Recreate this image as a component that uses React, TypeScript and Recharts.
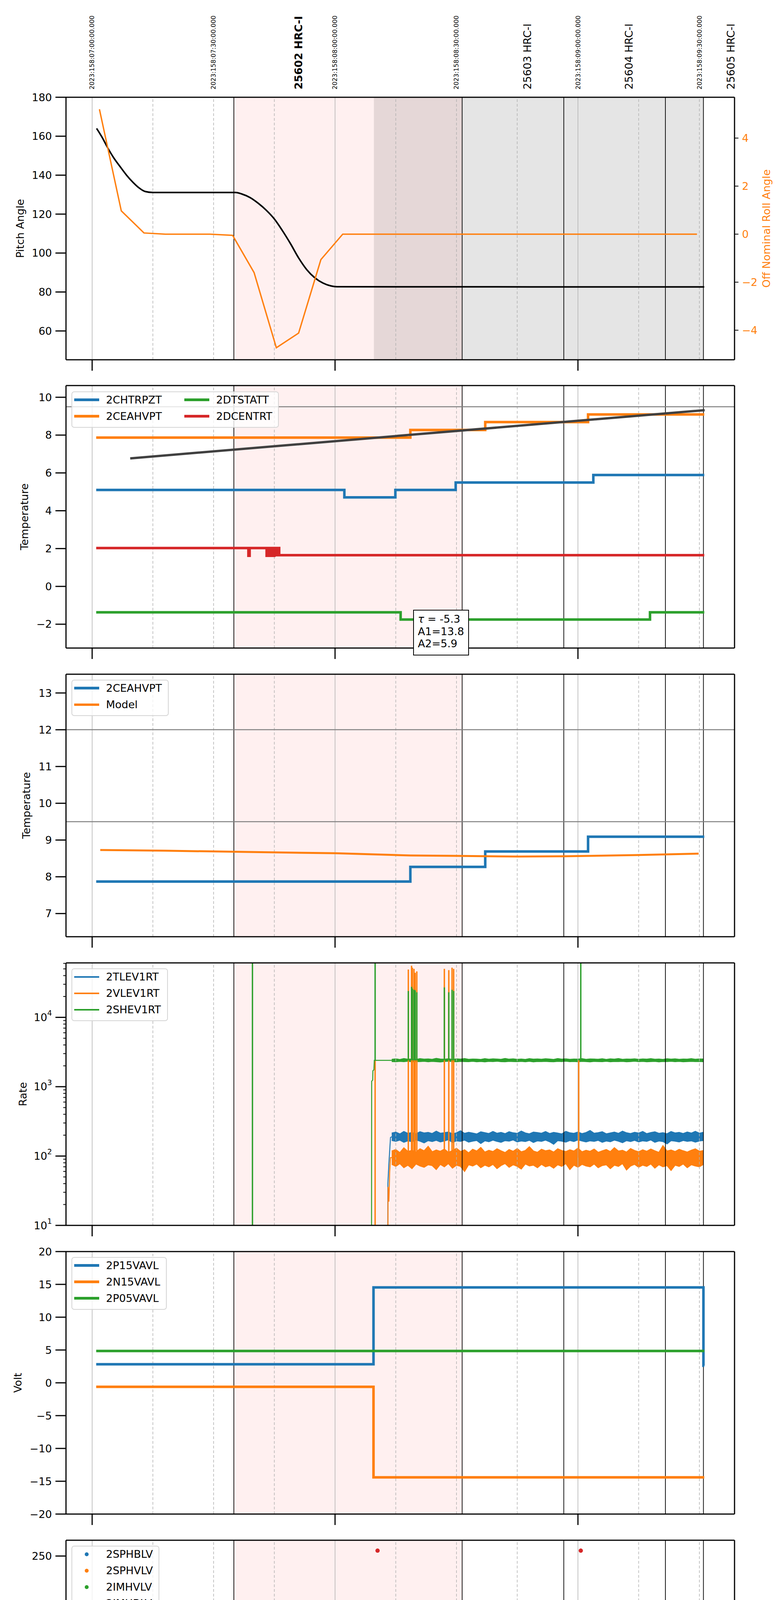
import React from 'react';
import { ComposedChart, Line, Area, Scatter, XAxis, YAxis, ReferenceLine, ReferenceArea } from 'recharts';

const BLUE = '#1f77b4';
const ORANGE = '#ff7f0e';
const GREEN = '#2ca02c';
const RED = '#d62728';

// time axis: minutes after 03:00 local (07:00 UTC), day 2023:158
const X_DOMAIN = [-6.46, 158.68];
const HOUR_TICKS = [0, 60, 120];
const QUARTER_TICKS = [0, 15, 30, 45, 60, 75, 90, 105, 120, 135, 150];
const QUARTER_LINES = [15, 30, 45, 75, 90, 105, 135, 150];
const HOUR_LABELS = ['03h', '04h', '05h'];
const OBS_BOUNDS = [35, 91.4, 116.5, 141.6, 151.0];
const HRC_SPAN = [35, 91.4];
const GRAY_SPAN = [69.6, 151.0];
const UTC_MARKS: [number, string][] = [
  [0, '2023:158:07:00:00.000'],
  [30, '2023:158:07:30:00.000'],
  [60, '2023:158:08:00:00.000'],
  [90, '2023:158:08:30:00.000'],
  [120, '2023:158:09:00:00.000'],
  [150, '2023:158:09:30:00.000'],
];
const OBS_MARKS: [number, string, boolean][] = [
  [51.0, '25602 HRC-I', true],
  [107.5, '25603 HRC-I', false],
  [132.6, '25604 HRC-I', false],
  [157.8, '25605 HRC-I', false],
];

type Pt = [number, number];

// panel 1
const PITCH: Pt[] = [
  [1.1, 164.0], [2.5, 159.3], [3.8, 154.2], [5.3, 149.0], [6.9, 144.4], [8.5, 140.0], [10.0, 136.5],
  [11.5, 133.6], [13.1, 131.6], [15.0, 131.1], [35.4, 131.1], [37.0, 130.3], [39.0, 128.5], [41.0, 125.6],
  [43.0, 122.0], [45.0, 117.5], [47.0, 111.5], [49.0, 104.8], [51.0, 97.5], [53.0, 91.5], [55.0, 87.3],
  [57.0, 84.6], [59.0, 83.1], [60.5, 82.7], [151.2, 82.6],
];
const ROLL: Pt[] = [
  [1.8, 5.2], [7.2, 0.97], [12.8, 0.05], [18.1, 0.0], [29.1, 0.0], [34.7, -0.05], [40.0, -1.6],
  [45.5, -4.73], [51.0, -4.12], [56.5, -1.06], [61.9, 0.0], [149.4, 0.0],
];

// panel 2 / 3
const CHTRPZT: Pt[] = [[1, 5.1], [62.3, 4.71], [74.9, 5.1], [89.8, 5.49], [123.8, 5.89], [151.2, 5.89]];
const CEAHVPT: Pt[] = [[1, 7.87], [78.6, 8.27], [97.1, 8.69], [122.5, 9.09], [151.2, 9.09]];
const DTSTATT: Pt[] = [[1, -1.37], [76.2, -1.75], [137.8, -1.37], [151.2, -1.37]];
const DCENTRT: Pt[] = [
  [1, 2.03], [38.6, 1.62], [38.9, 2.03], [43.1, 1.62], [43.4, 2.03], [43.8, 1.62], [44.2, 2.03],
  [44.6, 1.62], [45.0, 2.03], [45.4, 1.65], [45.8, 2.03], [46.2, 1.65], [151.2, 1.65],
];
const TREND: Pt[] = [[9.4, 6.77], [151.3, 9.32]];
const CEAHVPT_MODEL: Pt[] = [
  [2.0, 8.73], [18.0, 8.71], [35.4, 8.68], [60.1, 8.64], [78.6, 8.58], [89.8, 8.57], [105.2, 8.55],
  [117.0, 8.56], [134.3, 8.59], [149.8, 8.63],
];

// panel 4 (rates)
const RATE_MINUTES = [
  74, 75, 76, 77, 78, 79, 80, 81, 82, 83,
  84, 85, 86, 87, 88, 89, 90, 91, 92, 93,
  94, 95, 96, 97, 98, 99, 100, 101, 102, 103,
  104, 105, 106, 107, 108, 109, 110, 111, 112, 113,
  114, 115, 116, 117, 118, 119, 120, 121, 122, 123,
  124, 125, 126, 127, 128, 129, 130, 131, 132, 133,
  134, 135, 136, 137, 138, 139, 140, 141, 142, 143,
  144, 145, 146, 147, 148, 149, 150, 151,
];
const TLEV_LO = [
  168, 163, 170, 158, 166, 161, 171, 164, 155, 167,
  162, 169, 160, 165, 172, 157, 166, 163, 170, 159,
  164, 168, 152, 166, 161, 170, 163, 158, 167, 164,
  171, 160, 165, 162, 169, 157, 166, 163, 170, 161,
  148, 167, 164, 159, 168, 162, 171, 165, 160, 166,
  163, 169, 158, 165, 161, 170, 164, 156, 167, 162,
  169, 160, 166, 163, 171, 158, 165, 162, 150, 167,
  164, 160, 168, 163, 166, 159, 165, 168,
];
const TLEV_HI = [
  214, 221, 208, 226, 212, 218, 209, 224, 215, 219,
  211, 228, 213, 217, 222, 209, 216, 231, 212, 220,
  214, 208, 223, 217, 211, 226, 213, 219, 210, 224,
  216, 212, 229, 215, 209, 221, 218, 213, 225, 211,
  219, 214, 208, 227, 216, 212, 222, 210, 218, 233,
  213, 217, 224, 209, 215, 221, 212, 228, 216, 211,
  220, 214, 226, 210, 218, 223, 212, 217, 209, 225,
  215, 219, 211, 222, 214, 227, 213, 220,
];
const VLEV_LO = [
  76, 71, 78, 68, 74, 66, 77, 72, 69, 75,
  73, 64, 76, 70, 78, 67, 74, 71, 60, 75,
  72, 77, 68, 74, 70, 76, 66, 73, 78, 69,
  75, 71, 65, 77, 72, 74, 68, 76, 70, 73,
  67, 75, 71, 78, 64, 74, 69, 76, 72, 70,
  77, 68, 73, 75, 66, 74, 71, 78, 63, 72,
  76, 69, 74, 71, 77, 67, 75, 70, 73, 62,
  74, 71, 77, 68, 75, 72, 70, 76,
];
const VLEV_HI = [
  118, 124, 112, 131, 116, 121, 114, 127, 119, 138,
  115, 122, 117, 126, 113, 120, 129, 116, 123, 111,
  125, 118, 133, 114, 121, 116, 127, 119, 112, 124,
  117, 128, 115, 120, 136, 118, 113, 125, 119, 122,
  114, 127, 120, 116, 123, 118, 130, 115, 121, 117,
  126, 113, 119, 124, 116, 132, 118, 121, 114, 128,
  120, 115, 123, 117, 126, 119, 113, 141, 118, 122,
  116, 125, 119, 114, 121, 127, 117, 120,
];
const SHEV_LO = [
  2310, 2290, 2325, 2300, 2335, 2285, 2315, 2305, 2330, 2295,
  2320, 2300, 2280, 2315, 2335, 2305, 2290, 2325, 2310, 2300,
  2330, 2295, 2315, 2285, 2320, 2305, 2335, 2300, 2290, 2325,
  2310, 2300, 2320, 2295, 2330, 2285, 2315, 2305, 2325, 2300,
  2290, 2320, 2310, 2335, 2300, 2315, 2295, 2325, 2305, 2285,
  2320, 2310, 2300, 2330, 2295, 2315, 2305, 2325, 2290, 2310,
  2335, 2300, 2320, 2295, 2310, 2325, 2285, 2315, 2305, 2330,
  2300, 2320, 2295, 2310, 2325, 2305, 2315, 2300,
];
const SHEV_HI = [
  2480, 2520, 2465, 2545, 2490, 2505, 2470, 2530, 2495, 2510,
  2475, 2560, 2500, 2485, 2525, 2470, 2515, 2490, 2540, 2480,
  2505, 2495, 2470, 2535, 2485, 2515, 2500, 2475, 2550, 2490,
  2520, 2480, 2505, 2470, 2530, 2495, 2510, 2485, 2525, 2500,
  2470, 2540, 2490, 2515, 2480, 2505, 2495, 2530, 2475, 2510,
  2500, 2485, 2525, 2470, 2515, 2495, 2545, 2480, 2505, 2490,
  2520, 2475, 2510, 2495, 2535, 2485, 2500, 2470, 2525, 2490,
  2515, 2480, 2505, 2495, 2530, 2485, 2510, 2500,
];
const TLEV_RISE: Pt[] = [[73.0, 1], [73.05, 40], [73.3, 78], [73.7, 185], [74, 190]];
const VLEV_RISE: Pt[] = [[73.0, 1], [73.1, 36], [73.3, 22], [73.5, 60], [73.7, 95], [74, 95]];
const SHEV_RISE: Pt[] = [[69.0, 1], [69.05, 1200], [69.3, 1250], [69.35, 1700], [69.6, 1750], [69.7, 2400], [74, 2400]];
// [minute, from, to]
const VLEV_SPIKES: [number, number, number][] = [
  [69.9, 1, 2400], [78.1, 95, 49000], [78.9, 95, 55600], [79.1, 95, 52000], [79.5, 95, 50000],
  [79.8, 95, 44000], [80.2, 95, 46000], [87.0, 95, 50000], [88.1, 95, 48000], [88.9, 95, 52000],
  [89.3, 95, 50000], [120.2, 95, 2400],
];
const SHEV_SPIKES: [number, number, number][] = [
  [39.6, 1, 1e6], [69.9, 2400, 1e6], [78.1, 2400, 24000], [78.9, 2400, 27600], [79.1, 2400, 26000],
  [79.5, 2400, 25000], [79.8, 2400, 24500], [80.2, 2400, 23000], [87.0, 2400, 27000],
  [88.1, 2400, 23000], [88.9, 2400, 25000], [89.3, 2400, 24000], [120.7, 2400, 1e6],
];
const LOG_TICKS = [
  10, 20, 30, 40, 50, 60, 70, 80, 90,
  100, 200, 300, 400, 500, 600, 700, 800, 900,
  1000, 2000, 3000, 4000, 5000, 6000, 7000, 8000, 9000,
  10000, 20000, 30000, 40000, 50000, 60000,
];

// panel 5
const P15VAVL: Pt[] = [[1, 2.83], [69.5, 14.54], [151.0, 2.6], [151.2, 2.6]];
const N15VAVL: Pt[] = [[1, -0.61], [69.5, -14.4], [151.2, -14.4]];
const P05VAVL: Pt[] = [[1, 4.85], [151.2, 4.85]];

// panel 6
const IMHBLV_PTS: Pt[] = [
  [70.5, 255.5], [70.9, 122.3], [71.0, 127], [71.1, 119.1], [71.5, 106], [71.6, 104], [72.1, 101.3],
  [72.7, 97.2], [73.4, 92.9], [73.5, 91.4], [74.0, 89.1], [74.3, 87], [78.8, 79.2], [88.8, 79.2],
  [90.0, 79.2], [120.7, 255.5],
];
const IMHBLV_RUN: Pt[] = [[74.5, 86], [151.2, 86]];
const IMHVLV_PTS: Pt[] = [
  [71.2, 99.4], [71.8, 95.3], [72.5, 90.4], [73.2, 85.9], [73.9, 82.2], [78.8, 127], [88.8, 127], [90.0, 127],
];
const IMHVLV_RUN: Pt[] = [[74.5, 79.3], [151.2, 79.3]];

// panel 7
const SPINATM: Pt[] = [
  [70.85, 4.16], [71.85, 4.6], [78.6, 0], [78.8, 4.6], [79.0, 0], [79.2, 4.6], [79.4, 0], [79.6, 4.6],
  [79.8, 0], [80.0, 4.6], [80.2, 0], [80.4, 4.6], [80.6, 0], [80.8, 4.6], [88.5, 0], [88.6, 4.6],
  [90.0, 0], [90.1, 4.6], [151.2, 4.6],
];
const SPHVATM: Pt[] = [
  [69.5, 0], [69.6, 16.96], [78.6, 10.28], [78.8, 16.96], [79.0, 10.5], [79.2, 16.96], [79.4, 10.5],
  [79.6, 16.96], [79.8, 10.5], [80.0, 16.96], [80.2, 10.5], [80.4, 16.96], [80.6, 10.5], [80.8, 16.96],
  [88.5, 11.07], [88.6, 16.96], [90.0, 11.07], [90.1, 16.96], [131.2, 17.23], [151.2, 17.23],
];
const IMINATM: Pt[] = [
  [70.6, 2.36], [78.6, 4.66], [78.8, 2.36], [79.0, 4.66], [79.2, 2.36], [79.4, 4.66], [79.6, 2.36],
  [79.8, 4.66], [80.0, 2.36], [80.2, 4.66], [80.4, 2.36], [80.6, 4.66], [80.8, 2.36], [88.5, 4.66],
  [88.6, 2.36], [90.0, 4.66], [90.1, 2.36], [151.2, 2.36],
];
const IMHVATM: Pt[] = [
  [69.7, 0], [69.8, 16.37], [78.6, 17.0], [78.8, 16.37], [79.0, 17.0], [79.2, 16.37], [79.4, 17.0],
  [79.6, 16.37], [79.8, 17.0], [80.0, 16.37], [80.2, 17.0], [80.4, 16.37], [81.7, 16.69], [87.7, 17.0],
  [87.8, 16.69], [89.6, 17.0], [89.7, 16.94], [96.0, 17.23], [104.0, 17.51], [112.0, 17.86], [112.1, 17.51],
  [113.5, 17.82], [120.7, 0], [120.8, 17.82], [124.4, 18.1], [139.0, 18.38], [151.2, 18.38],
];

// panel 8
const FHTRMZT: Pt[] = [
  [1, -3.64], [3.2, -4.03], [61.9, -4.43], [83.8, -4.03], [96.0, -3.64], [107.0, -3.27], [118.6, -2.89],
  [130.6, -2.51], [142.6, -2.13], [151.2, -2.13],
];
const FRADPYT: Pt[] = [
  [1, -5.98], [28.3, -6.38], [46.6, -5.98], [56.6, -6.38], [65.4, -6.77], [88.9, -6.38], [102.5, -5.98],
  [115.8, -5.59], [128.8, -5.2], [142.6, -4.8], [151.2, -4.8],
];
const FEPRATM: Pt[] = [
  [70.7, -3.42], [71.9, -3.03], [74.7, -2.62], [77.7, -2.23], [78.6, -4.66], [78.7, -2.23], [80.2, -4.66],
  [80.3, -2.23], [81.4, -1.85], [86.0, -1.4], [88.5, -4.66], [88.6, -1.4], [90.0, -4.66], [90.1, -1.4],
  [93.5, -1.01], [102.0, -0.6], [111.5, -0.18], [122.4, 0.23], [134.1, 0.64], [147.0, 1.08], [151.2, 1.08],
];
const FE00ATM: Pt[] = [
  [69.7, -9], [69.8, -2.09], [77.1, -1.75], [78.6, 5], [78.8, -1.75], [79.0, 5], [79.2, -1.75], [79.4, 5],
  [79.6, -1.75], [79.8, 5], [80.0, -1.75], [80.2, 5], [80.4, -1.75], [80.6, 5], [80.8, -1.75], [86.0, -1.42],
  [86.4, -2.15], [86.5, -1.42], [87.3, 5], [87.4, -1.42], [88.3, 5], [88.4, -1.42], [89.1, 5], [89.2, -1.42],
  [90.0, 5], [90.1, -1.42], [93.2, -1.11], [96.9, -0.8], [97.0, -1.11], [100.5, -0.78], [108.1, -0.46],
  [111.2, -1.15], [111.3, -0.46], [116.1, -0.13], [120.7, -9], [120.8, -0.13], [124.8, 0.2], [130.2, -0.18],
  [130.3, 0.2], [133.7, 0.51], [143.0, 0.83], [151.2, 0.83],
];

const PLOT_H = 672;
const TOPS = [249, 987, 1726, 2465, 3204, 3943, 4682, 5421];

const toData = (pts: Pt[]) => pts.map(([t, v]) => ({ t, v }));
const bandData = (lo: number[], hi: number[]) => RATE_MINUTES.map((t, i) => ({ t, band: [lo[i], hi[i]] }));
const spikeData = (sp: [number, number, number][]) =>
  sp.flatMap(([t, a, b]) => [{ t, v: a }, { t, v: b }, { t, v: a }, { t, v: null }]);

const minus = (v: number, s: string) => (v < 0 ? '\u2212' + s.replace('-', '') : s);
const fmtInt = (v: number) => minus(v, String(v));
const fmtOne = (v: number) => minus(v, v.toFixed(1));

const timeTick = (bottom: boolean) => (props: any) => {
  const { x, y, payload } = props;
  const v = payload.value as number;
  const major = v % 60 === 0;
  return (
    <g>
      <line x1={x} x2={x} y1={y} y2={y + (major ? 28 : 10)} stroke="#000" strokeWidth={major ? 3 : 2} />
      {bottom && major && (
        <text x={x} y={y + 63} textAnchor="middle" fontSize={27} fill="#000">{HOUR_LABELS[v / 60]}</text>
      )}
      {bottom && !major && (
        <text x={x} y={y + 24} textAnchor="middle" fontSize={19} fill="#000">{String(v % 60)}</text>
      )}
    </g>
  );
};

const yTick = (fmt: (v: number) => string) => (props: any) => {
  const { x, y, payload } = props;
  return (
    <g>
      <line x1={x - 27} x2={x} y1={y} y2={y} stroke="#000" strokeWidth={3} />
      <text x={x - 36} y={y} textAnchor="end" dominantBaseline="central" fontSize={27} fill="#000">
        {fmt(payload.value)}
      </text>
    </g>
  );
};

const logTick = (props: any) => {
  const { x, y, payload } = props;
  const v = payload.value as number;
  const major = /^10*$/.test(String(v));
  return (
    <g>
      <line x1={x - (major ? 27 : 7)} x2={x} y1={y} y2={y} stroke="#000" strokeWidth={major ? 3 : 2} />
      {major && (
        <text x={x - 36} y={y} textAnchor="end" dominantBaseline="central" fontSize={27} fill="#000">
          10<tspan dy={-11} fontSize={19}>{String(v).length - 1}</tspan>
        </text>
      )}
    </g>
  );
};

const rollTick = (props: any) => {
  const { x, y, payload } = props;
  return (
    <g>
      <line x1={x} x2={x + 10} y1={y} y2={y} stroke="#000" strokeWidth={2} />
      <text x={x + 19} y={y} dominantBaseline="central" fontSize={27} fill={ORANGE}>{fmtInt(payload.value)}</text>
    </g>
  );
};

const yLabel = (text: string, cx: number, color = '#000') => (props: any) => {
  const vb = props.viewBox;
  const cy = vb.y + vb.height / 2;
  return (
    <text x={cx} y={cy} transform={`rotate(-90 ${cx} ${cy})`} textAnchor="middle" dominantBaseline="central" fontSize={27} fill={color}>
      {text}
    </text>
  );
};

const xLabel = (props: any) => {
  const vb = props.viewBox;
  return (
    <text x={vb.x + vb.width / 2} y={vb.y + 104} textAnchor="middle" fontSize={33} fill="#000">
      2023-06-07 (158)
    </text>
  );
};

const topLabel = (text: string, size: number, bold: boolean) => (props: any) => {
  const vb = props.viewBox;
  const x = vb.x;
  const y = vb.y - 20;
  return (
    <text transform={`translate(${x},${y}) rotate(-90)`} x={0} y={0} dominantBaseline="central" fontSize={size} fontWeight={bold ? 'bold' : 'normal'} fill="#000">
      {text}
    </text>
  );
};

const stepLine = (key: string, pts: Pt[], color: string, width = 6.5, type: any = 'stepAfter', yAxisId: any = 0) => (
  <Line
    key={key}
    yAxisId={yAxisId}
    data={toData(pts)}
    dataKey="v"
    type={type}
    stroke={color}
    strokeWidth={width}
    dot={false}
    activeDot={false}
    isAnimationActive={false}
  />
);

const dots = (key: string, pts: Pt[], color: string) => (
  <Scatter
    key={key}
    data={toData(pts)}
    dataKey="v"
    isAnimationActive={false}
    shape={(p: any) => <circle cx={p.cx} cy={p.cy} r={5.5} fill={color} />}
  />
);

const band = (key: string, lo: number[], hi: number[], color: string) => (
  <Area
    key={key}
    data={bandData(lo, hi)}
    dataKey="band"
    type="linear"
    stroke={color}
    strokeWidth={2.5}
    fill={color}
    fillOpacity={1}
    dot={false}
    activeDot={false}
    isAnimationActive={false}
  />
);

const spikes = (key: string, sp: [number, number, number][], color: string) => (
  <Line
    key={key}
    data={spikeData(sp)}
    dataKey="v"
    type="linear"
    stroke={color}
    strokeWidth={3.5}
    dot={false}
    activeDot={false}
    connectNulls={false}
    isAnimationActive={false}
  />
);

interface PanelProps {
  top: number;
  mt?: number;
  xh?: number;
  bottom?: boolean;
  domain: number[];
  ticks: number[];
  tick: any;
  log?: boolean;
  label: string;
  labelX: number;
  rightAxis?: React.ReactNode;
  gray?: boolean;
  header?: boolean;
  children?: React.ReactNode;
}

function Panel({ top, mt = 20, xh = 45, bottom = false, domain, ticks, tick, log = false, label, labelX, rightAxis, gray = false, header = false, children }: PanelProps) {
  const spine = { stroke: '#000', strokeWidth: 3 };
  return (
    <div style={{ position: 'absolute', left: 0, top: top - mt }}>
      <ComposedChart width={2000} height={mt + PLOT_H + xh} margin={{ top: mt - 10, right: 19, bottom: 0, left: 19 }}>
        <XAxis
          dataKey="t"
          type="number"
          domain={X_DOMAIN}
          allowDataOverflow
          ticks={bottom ? QUARTER_TICKS : HOUR_TICKS}
          interval={0}
          tickSize={0}
          tickMargin={0}
          tickLine={false}
          axisLine={spine}
          height={xh}
          tick={timeTick(bottom)}
          label={bottom ? { content: xLabel } : undefined}
        />
        <XAxis xAxisId="top" orientation="top" type="number" domain={X_DOMAIN} allowDataOverflow height={10} tick={false} tickLine={false} axisLine={spine} />
        <YAxis
          type="number"
          scale={log ? 'log' : 'auto'}
          domain={domain}
          allowDataOverflow
          ticks={ticks}
          interval={0}
          width={150}
          tickSize={0}
          tickMargin={0}
          tickLine={false}
          axisLine={spine}
          tick={tick}
          label={{ content: yLabel(label, labelX) }}
        />
        {rightAxis ?? (
          <YAxis yAxisId="frame" orientation="right" width={100} domain={[0, 1]} tick={false} tickLine={false} axisLine={spine} />
        )}
        <ReferenceArea x1={HRC_SPAN[0]} x2={HRC_SPAN[1]} fill="#ff0000" fillOpacity={0.06} stroke="none" ifOverflow="hidden" />
        {gray && <ReferenceArea x1={GRAY_SPAN[0]} x2={GRAY_SPAN[1]} fill="#000" fillOpacity={0.1} stroke="none" ifOverflow="hidden" />}
        {HOUR_TICKS.map((m) => (
          <ReferenceLine key={'h' + m} x={m} stroke="#b0b0b0" strokeWidth={1.5} />
        ))}
        {QUARTER_LINES.map((m) => (
          <ReferenceLine key={'q' + m} x={m} stroke="#b0b0b0" strokeWidth={1.5} strokeDasharray="7 5" />
        ))}
        {OBS_BOUNDS.map((m) => (
          <ReferenceLine key={'o' + m} x={m} stroke="#000" strokeWidth={1.8} />
        ))}
        {header &&
          UTC_MARKS.map(([m, s]) => (
            <ReferenceLine key={'u' + m} x={m} stroke="none" label={{ content: topLabel(s, 16, false) }} />
          ))}
        {header &&
          OBS_MARKS.map(([m, s, b]) => (
            <ReferenceLine key={'n' + m} x={m} stroke="none" label={{ content: topLabel(s, 27, b) }} />
          ))}
        {children}
      </ComposedChart>
    </div>
  );
}

interface Entry {
  name: string;
  color: string;
  kind?: 'line' | 'thin' | 'model' | 'dot';
}

function LegendBox({ top, width, rows, entries }: { top: number; width: number; rows: number; entries: Entry[] }) {
  return (
    <div
      style={{
        position: 'absolute',
        left: 183,
        top,
        width,
        height: 9 + 42 * rows,
        border: '2.5px solid #d5d5d5',
        borderRadius: 7,
        background: 'rgba(255,255,255,0.8)',
        boxSizing: 'border-box',
      }}
    >
      {entries.map((e, i) => {
        const col = Math.floor(i / rows);
        const row = i % rows;
        const cy = 19.5 + 42 * row;
        const lx = 4.5 + col * 282;
        const th = e.kind === 'thin' ? 4 : e.kind === 'model' ? 6 : 7.5;
        return (
          <React.Fragment key={e.name}>
            {e.kind === 'dot' ? (
              <div style={{ position: 'absolute', left: lx + 27, top: cy - 5, width: 10, height: 10, borderRadius: '50%', background: e.color }} />
            ) : (
              <div style={{ position: 'absolute', left: lx, top: cy - th / 2, width: 64, height: th, background: e.color }} />
            )}
            <div style={{ position: 'absolute', left: lx + 82, top: cy - 17, fontSize: 27, lineHeight: '34px', whiteSpace: 'nowrap' }}>
              {e.name}
            </div>
          </React.Fragment>
        );
      })}
    </div>
  );
}

export default function App() {
  return (
    <div
      style={{
        position: 'absolute',
        left: 0,
        top: 0,
        width: 2000,
        height: 6200,
        background: '#fff',
        overflow: 'hidden',
        fontFamily: '"DejaVu Sans", sans-serif',
      }}
    >
      {/* 1: pitch / roll */}
      <Panel
        top={TOPS[0]}
        mt={249}
        domain={[45.2, 180]}
        ticks={[60, 80, 100, 120, 140, 160, 180]}
        tick={yTick(fmtInt)}
        label="Pitch Angle"
        labelX={51}
        gray
        header
        rightAxis={
          <YAxis
            yAxisId="roll"
            orientation="right"
            type="number"
            domain={[-5.23, 5.7]}
            allowDataOverflow
            ticks={[-4, -2, 0, 2, 4]}
            interval={0}
            width={100}
            tickSize={0}
            tickMargin={0}
            tickLine={false}
            axisLine={{ stroke: '#000', strokeWidth: 3 }}
            tick={rollTick}
            label={{ content: yLabel('Off Nominal Roll Angle', 1962, ORANGE) }}
          />
        }
      >
        {stepLine('pitch', PITCH, '#000', 4, 'monotone')}
        {stepLine('roll', ROLL, ORANGE, 3.5, 'linear', 'roll')}
      </Panel>

      {/* 2: temperatures */}
      <Panel top={TOPS[1]} domain={[-3.26, 10.62]} ticks={[-2, 0, 2, 4, 6, 8, 10]} tick={yTick(fmtInt)} label="Temperature" labelX={62}>
        <ReferenceLine y={9.5} stroke="#808080" strokeWidth={2.5} />
        {stepLine('chtrpzt', CHTRPZT, BLUE)}
        {stepLine('ceahvpt', CEAHVPT, ORANGE)}
        {stepLine('dtstatt', DTSTATT, GREEN)}
        {stepLine('dcentrt', DCENTRT, RED)}
        {stepLine('trend', TREND, '#404040', 6, 'linear')}
      </Panel>

      {/* 3: CEAHVPT vs model */}
      <Panel top={TOPS[2]} domain={[6.37, 13.51]} ticks={[7, 8, 9, 10, 11, 12, 13]} tick={yTick(fmtInt)} label="Temperature" labelX={67}>
        <ReferenceLine y={12} stroke="#808080" strokeWidth={2.5} />
        <ReferenceLine y={9.5} stroke="#808080" strokeWidth={2.5} />
        {stepLine('ceahvpt3', CEAHVPT, BLUE)}
        {stepLine('model', CEAHVPT_MODEL, ORANGE, 5, 'linear')}
      </Panel>

      {/* 4: rates */}
      <Panel top={TOPS[3]} domain={[10, 61000]} ticks={LOG_TICKS} tick={logTick} log label="Rate" labelX={58}>
        {stepLine('tlevrise', TLEV_RISE, BLUE, 2.5, 'linear')}
        {band('tlev', TLEV_LO, TLEV_HI, BLUE)}
        {stepLine('vlevrise', VLEV_RISE, ORANGE, 2.5, 'linear')}
        {band('vlev', VLEV_LO, VLEV_HI, ORANGE)}
        {spikes('vlevspk', VLEV_SPIKES, ORANGE)}
        {stepLine('shevrise', SHEV_RISE, GREEN, 2.5, 'linear')}
        {band('shev', SHEV_LO, SHEV_HI, GREEN)}
        {spikes('shevspk', SHEV_SPIKES, GREEN)}
      </Panel>

      {/* 5: voltages */}
      <Panel top={TOPS[4]} domain={[-20, 20]} ticks={[-20, -15, -10, -5, 0, 5, 10, 15, 20]} tick={yTick(fmtInt)} label="Volt" labelX={45}>
        {stepLine('p15', P15VAVL, BLUE)}
        {stepLine('n15', N15VAVL, ORANGE)}
        {stepLine('p05', P05VAVL, GREEN)}
      </Panel>

      {/* 6: HV monitor */}
      <Panel top={TOPS[5]} domain={[0, 266]} ticks={[0, 50, 100, 150, 200, 250]} tick={yTick(fmtInt)} label="HV Monitor" labelX={50}>
        {stepLine('imhvlvrun', IMHVLV_RUN, GREEN, 12, 'linear')}
        {dots('imhvlv', IMHVLV_PTS, GREEN)}
        {stepLine('imhblvrun', IMHBLV_RUN, RED, 10, 'linear')}
        {dots('imhblv', IMHBLV_PTS, RED)}
      </Panel>

      {/* 7: detector temps */}
      <Panel top={TOPS[6]} domain={[0.96, 19.58]} ticks={[2.5, 5, 7.5, 10, 12.5, 15, 17.5]} tick={yTick(fmtOne)} label="Detector Temp" labelX={41}>
        {stepLine('spinatm', SPINATM, BLUE)}
        {stepLine('sphvatm', SPHVATM, ORANGE)}
        {stepLine('iminatm', IMINATM, GREEN)}
        {stepLine('imhvatm', IMHVATM, RED)}
      </Panel>

      {/* 8: FEA temps */}
      <Panel top={TOPS[7]} xh={115} bottom domain={[-7.87, 1.72]} ticks={[-6, -4, -2, 0]} tick={yTick(fmtInt)} label="FEA Temp" labelX={63}>
        {stepLine('fhtrmzt', FHTRMZT, BLUE)}
        {stepLine('fradpyt', FRADPYT, ORANGE)}
        {stepLine('fepratm', FEPRATM, GREEN)}
        {stepLine('fe00atm', FE00ATM, RED)}
      </Panel>

      <LegendBox
        top={TOPS[1] + 15}
        width={531}
        rows={2}
        entries={[
          { name: '2CHTRPZT', color: BLUE },
          { name: '2CEAHVPT', color: ORANGE },
          { name: '2DTSTATT', color: GREEN },
          { name: '2DCENTRT', color: RED },
        ]}
      />
      <LegendBox
        top={TOPS[2] + 14}
        width={249}
        rows={2}
        entries={[
          { name: '2CEAHVPT', color: BLUE },
          { name: 'Model', color: ORANGE, kind: 'model' },
        ]}
      />
      <LegendBox
        top={TOPS[3] + 14}
        width={247}
        rows={3}
        entries={[
          { name: '2TLEV1RT', color: BLUE, kind: 'thin' },
          { name: '2VLEV1RT', color: ORANGE, kind: 'thin' },
          { name: '2SHEV1RT', color: GREEN, kind: 'thin' },
        ]}
      />
      <LegendBox
        top={TOPS[4] + 14}
        width={244}
        rows={3}
        entries={[
          { name: '2P15VAVL', color: BLUE },
          { name: '2N15VAVL', color: ORANGE },
          { name: '2P05VAVL', color: GREEN },
        ]}
      />
      <LegendBox
        top={TOPS[5] + 14}
        width={225}
        rows={4}
        entries={[
          { name: '2SPHBLV', color: BLUE, kind: 'dot' },
          { name: '2SPHVLV', color: ORANGE, kind: 'dot' },
          { name: '2IMHVLV', color: GREEN, kind: 'dot' },
          { name: '2IMHBLV', color: RED, kind: 'dot' },
        ]}
      />
      <LegendBox
        top={TOPS[6] + 13}
        width={249}
        rows={4}
        entries={[
          { name: '2SPINATM', color: BLUE },
          { name: '2SPHVATM', color: ORANGE },
          { name: '2IMINATM', color: GREEN },
          { name: '2IMHVATM', color: RED },
        ]}
      />
      <LegendBox
        top={TOPS[7] + 14}
        width={253}
        rows={4}
        entries={[
          { name: '2FHTRMZT', color: BLUE },
          { name: '2FRADPYT', color: ORANGE },
          { name: '2FEPRATM', color: GREEN },
          { name: '2FE00ATM', color: RED },
        ]}
      />

      <div
        style={{
          position: 'absolute',
          left: 1058,
          top: 1561,
          width: 143,
          height: 117,
          border: '2px solid #000',
          background: '#fff',
          boxSizing: 'border-box',
          fontSize: 27,
          lineHeight: '31.7px',
          padding: '6px 0 0 10px',
        }}
      >
        <span style={{ fontStyle: 'italic' }}>τ</span> = -5.3
        <br />
        A1=13.8
        <br />
        A2=5.9
      </div>
    </div>
  );
}
